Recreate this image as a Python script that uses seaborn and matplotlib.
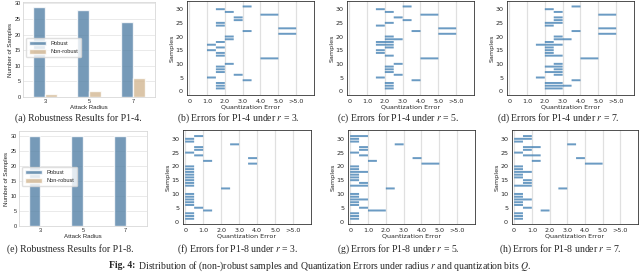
import matplotlib
matplotlib.use("Agg")
import matplotlib.pyplot as plt
import seaborn as sns
import pandas as pd

# ---- values ----
radius = [3, 5, 7]
p14_robust = [29, 28, 24]
p14_nonrobust = [1, 2, 6]
p18_robust = [30, 30, 30]
p18_nonrobust = [0, 0, 0]

# sample ids, top to bottom (one sample missing)
samples = list(range(31, 11, -1)) + list(range(10, 0, -1))

# quantization error interval per sample (lo, hi)
p14_r3_lo = [3.0, 1.5, 2.0, 4.0, 2.5, 2.5, 1.5, 1.5, 5.0, 3.0, 5.0, 2.0, 2.0, 1.5, 1.0,
             1.5, 1.0, 1.5, 1.5, 4.0, 2.0, 1.5, 1.5, 1.5, 2.5, 1.0, 3.0, 1.5, 1.5, 1.5]
p14_r3_hi = [3.5, 2.0, 2.5, 5.0, 3.0, 3.0, 2.0, 2.0, 6.0, 3.5, 6.0, 2.5, 2.5, 2.0, 1.5,
             2.0, 1.5, 2.0, 2.0, 5.0, 2.5, 2.0, 2.0, 2.0, 3.0, 1.5, 3.5, 2.0, 2.0, 2.0]
p14_r5_lo = [3.0, 1.5, 2.0, 4.0, 2.5, 3.0, 2.0, 1.5, 5.0, 3.5, 5.0, 2.0, 2.0, 1.5, 1.5,
             2.0, 1.5, 1.5, 2.0, 4.0, 2.5, 2.0, 2.0, 2.0, 2.5, 1.5, 3.5, 2.0, 2.0, 2.0]
p14_r5_hi = [3.5, 2.0, 2.5, 5.0, 3.0, 3.5, 2.5, 2.0, 6.0, 4.0, 6.0, 2.5, 3.0, 2.5, 2.5,
             2.5, 2.0, 2.0, 2.5, 5.0, 3.0, 2.5, 2.5, 2.5, 3.0, 2.0, 4.0, 2.5, 2.5, 2.5]
p14_r7_lo = [3.5, 2.0, 2.5, 5.0, 2.5, 2.5, 2.0, 2.0, 5.0, 3.5, 5.0, 2.5, 2.5, 2.0, 1.5,
             2.0, 2.0, 2.0, 2.0, 4.0, 2.5, 2.0, 2.5, 2.0, 2.5, 1.5, 3.5, 2.0, 2.0, 2.0]
p14_r7_hi = [4.0, 2.5, 3.0, 6.0, 3.0, 3.0, 3.0, 2.5, 6.0, 4.0, 6.0, 3.0, 3.5, 2.5, 3.0,
             2.5, 2.5, 2.5, 3.0, 5.0, 3.0, 3.0, 3.0, 3.0, 3.0, 2.0, 4.0, 3.0, 3.5, 3.0]

p18_r3_lo = [0.5, 0.0, 0.0, 2.5, 0.5, 0.5, 0.0, 0.5, 3.5, 1.0, 3.5, 0.0, 0.0, 0.0, 0.0,
             0.0, 0.0, 0.0, 0.0, 2.0, 0.0, 0.0, 0.0, 0.0, 0.0, 0.5, 1.0, 0.0, 0.0, 0.0]
p18_r3_hi = [1.0, 0.5, 0.5, 3.0, 1.0, 1.0, 0.5, 1.0, 4.0, 1.5, 4.0, 0.5, 0.5, 0.5, 0.5,
             0.5, 0.5, 0.5, 0.5, 2.5, 0.5, 0.5, 0.5, 0.5, 0.5, 1.0, 1.5, 0.5, 0.5, 0.5]
p18_r5_lo = [0.0, 0.0, 0.0, 2.5, 0.5, 0.5, 0.0, 0.5, 3.5, 1.0, 4.0, 0.0, 0.0, 0.0, 0.0,
             0.0, 0.0, 0.5, 0.0, 2.0, 0.0, 0.0, 0.0, 0.0, 0.0, 0.5, 1.0, 0.0, 0.0, 0.0]
p18_r5_hi = [1.0, 0.5, 0.5, 3.0, 1.0, 1.0, 0.5, 1.0, 4.0, 1.5, 5.0, 0.5, 0.5, 1.0, 0.5,
             0.5, 0.5, 1.0, 1.0, 2.5, 0.5, 0.5, 1.0, 0.5, 0.5, 1.0, 2.0, 0.5, 0.5, 0.5]
p18_r7_lo = [0.5, 0.0, 0.0, 3.0, 0.5, 0.5, 0.0, 0.5, 3.5, 1.0, 4.0, 0.0, 0.0, 0.0, 0.0,
             0.0, 0.5, 0.5, 0.0, 2.5, 0.0, 0.0, 0.0, 0.0, 0.0, 0.5, 1.5, 0.0, 0.0, 0.0]
p18_r7_hi = [1.0, 1.0, 0.5, 3.5, 1.5, 1.0, 0.5, 1.5, 4.0, 1.5, 5.0, 0.5, 0.5, 1.0, 0.5,
             0.5, 1.0, 1.0, 1.0, 3.0, 0.5, 0.5, 1.0, 0.5, 0.5, 1.0, 2.0, 0.5, 0.5, 0.5]

err_ticks = ["0", "1.0", "2.0", "3.0", "4.0", "5.0", ">5.0"]

W, H = 640, 275
BLUE, TAN = "steelblue", "burlywood"
SANS_A = "Liberation Sans"
SERIF = "Liberation Serif"

sns.set_style("white")
plt.rcParams["font.family"] = "DejaVu Sans"
plt.rcParams["mathtext.fontset"] = "stix"

fig = plt.figure(figsize=(6.4, 2.75), dpi=100)


def box(l, t, r, b):
    return [l / W, 1 - b / H, (r - l) / W, (b - t) / H]


def robustness_panel(rect, robust, nonrobust):
    ax = fig.add_axes(rect)
    df = pd.DataFrame({"radius": radius * 2,
                       "count": robust + nonrobust,
                       "kind": ["Robust"] * 3 + ["Non-robust"] * 3})
    sns.barplot(data=df, x="radius", y="count", hue="kind",
                palette={"Robust": BLUE, "Non-robust": TAN},
                alpha=0.8, width=0.55, ax=ax)
    ax.set_yticks(range(0, 31, 5))
    ax.grid(axis="y", color="#e6e6e6", lw=0.6)
    ax.set_axisbelow(True)
    for s in ax.spines.values():
        s.set_color("#d8d8d8"); s.set_linewidth(0.6)
    ax.tick_params(length=0, labelsize=4.0, pad=1.5)
    for t in ax.get_xticklabels() + ax.get_yticklabels():
        t.set_fontfamily(SANS_A)
    ax.set_xlabel("Attack Radius", fontsize=4.4, family=SANS_A, labelpad=0.5)
    ax.set_ylabel("Number of Samples", fontsize=4.4, family=SANS_A, labelpad=1)
    h, l = ax.get_legend_handles_labels()
    ax.legend(h, l, loc="center left", bbox_to_anchor=(0.0, 0.52),
              prop={"family": SANS_A, "size": 4.0}, handlelength=3.2,
              handleheight=0.8, frameon=True, edgecolor="#d8d8d8",
              borderpad=0.5, labelspacing=0.6)
    return ax


def error_panel(rect, lo, hi, ylim):
    ax = fig.add_axes(rect)
    widths = [b - a for a, b in zip(lo, hi)]
    bars = ax.barh(samples, widths, left=lo, height=0.72, color=BLUE, alpha=0.8,
                   edgecolor="none", linewidth=0)
    for p in bars:
        p.set_snap(False)
    ax.set_xlim(-0.12, 7.0)
    ax.set_ylim(*ylim)
    ax.set_xticks(range(7))
    ax.set_xticklabels(err_ticks)
    ax.set_yticks(range(0, 31, 5))
    ax.grid(axis="x", color="#e0e0e0", lw=0.9)
    ax.set_axisbelow(True)
    for s in ax.spines.values():
        s.set_color("#333333"); s.set_linewidth(0.6)
    ax.tick_params(labelsize=4.6, length=2, width=0.5, pad=0.8)
    ax.set_xlabel("Quantization Error", fontsize=4.6, labelpad=0.3)
    ax.set_ylabel("Samples", fontsize=4.6, labelpad=0.5)
    return ax


robustness_panel(box(23, 2, 155, 97), p14_robust, p14_nonrobust)
error_panel(box(187, 1, 314, 95), p14_r3_lo, p14_r3_hi, (-1.4, 33.0))
error_panel(box(347, 1, 474, 95), p14_r5_lo, p14_r5_hi, (-1.4, 33.0))
error_panel(box(507, 1, 634, 95), p14_r7_lo, p14_r7_hi, (-1.4, 33.0))

robustness_panel(box(19, 131, 147, 226), p18_robust, p18_nonrobust)
error_panel(box(183, 130, 311, 224), p18_r3_lo, p18_r3_hi, (-0.9, 33.2))
error_panel(box(348, 130, 475, 224), p18_r5_lo, p18_r5_hi, (-0.9, 33.2))
error_panel(box(512, 130, 638, 224), p18_r7_lo, p18_r7_hi, (-0.9, 33.2))

captions = [
    (78, 118, "(a) Robustness Results for P1-4."),
    (238, 118, "(b) Errors for P1-4 under $r$ = 3."),
    (398, 118, "(c) Errors for P1-4 under $r$ = 5."),
    (558, 118, "(d) Errors for P1-4 under $r$ = 7."),
    (70, 249, "(e) Robustness Results for P1-8."),
    (238, 249, "(f) Errors for P1-8 under $r$ = 3."),
    (398, 249, "(g) Errors for P1-8 under $r$ = 5."),
    (560, 249, "(h) Errors for P1-8 under $r$ = 7."),
]
for x, y, txt in captions:
    fig.text(x / W, 1 - y / H, txt, ha="center", va="center",
             family=SERIF, fontsize=7.0)

# figure caption: bold "Fig. 4:" then regular text
renderer = fig.canvas.get_renderer()
head = fig.text(0, 1 - 266 / H, "Fig. 4:", ha="left", va="center",
                family=SERIF, fontsize=7.0, weight="bold")
body = fig.text(0, 1 - 266 / H,
                " Distribution of (non-)robust samples and Quantization "
                "Errors under radius $r$ and quantization bits $Q$.",
                ha="left", va="center", family=SERIF, fontsize=7.0)
w_head = head.get_window_extent(renderer).width
w_body = body.get_window_extent(renderer).width
x0 = 320 - (w_head + w_body) / 2
head.set_x(x0 / W)
body.set_x((x0 + w_head) / W)

fig.savefig("out.png", dpi=100)
